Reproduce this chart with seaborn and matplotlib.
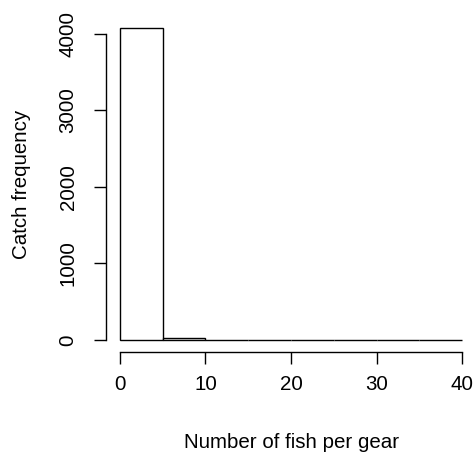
import numpy as np
import matplotlib
matplotlib.use("Agg")
import matplotlib.pyplot as plt
import seaborn as sns

# histogram bins (number of fish per gear) and counts
bin_edges = [0, 5, 10, 15, 20, 25, 30, 35, 40]
counts = [4078, 22, 4, 2, 1, 1, 0, 1]
bin_mids = [(a + b) / 2 for a, b in zip(bin_edges[:-1], bin_edges[1:])]
x_ticks = [0, 10, 20, 30, 40]
y_ticks = [0, 1000, 2000, 3000, 4000]

sns.set_style("white")
plt.rcParams['font.family'] = ['Liberation Sans', 'DejaVu Sans']
plt.rcParams['text.color'] = 'black'
plt.rcParams['axes.labelcolor'] = 'black'
plt.rcParams['xtick.color'] = 'black'
plt.rcParams['ytick.color'] = 'black'

fig = plt.figure(figsize=(4.76, 4.57), dpi=100)
ax = fig.add_axes([0.223, 0.229, 0.777, 0.737])

sns.histplot(x=bin_mids, weights=counts, bins=bin_edges, ax=ax,
             color="white", edgecolor="black", linewidth=1.0, alpha=1)

# R style axes: 4% padding, detached axis lines
ax.set_xlim(-1.6, 41.6)
ax.set_ylim(-163, 4241)
for s in ["top", "right"]:
    ax.spines[s].set_visible(False)
ax.spines['left'].set_bounds(0, 4000)
ax.spines['bottom'].set_bounds(0, 40)
for s in ["left", "bottom"]:
    ax.spines[s].set_linewidth(1.0)
    ax.spines[s].set_color("black")

ax.set_xticks(x_ticks)
ax.set_yticks(y_ticks)
ax.set_yticklabels([str(v) for v in y_ticks], rotation=90, va="center")
ax.tick_params(axis="both", direction="out", length=8.5, width=1.0,
               labelsize=14.8, left=True, bottom=True)
ax.tick_params(axis="x", pad=8)
ax.tick_params(axis="y", pad=12)
ax.set_xlabel("Number of fish per gear", fontsize=14.8, labelpad=28)
ax.set_ylabel("Catch frequency", fontsize=14.8, labelpad=20)

fig.savefig("out.png", dpi=100)
